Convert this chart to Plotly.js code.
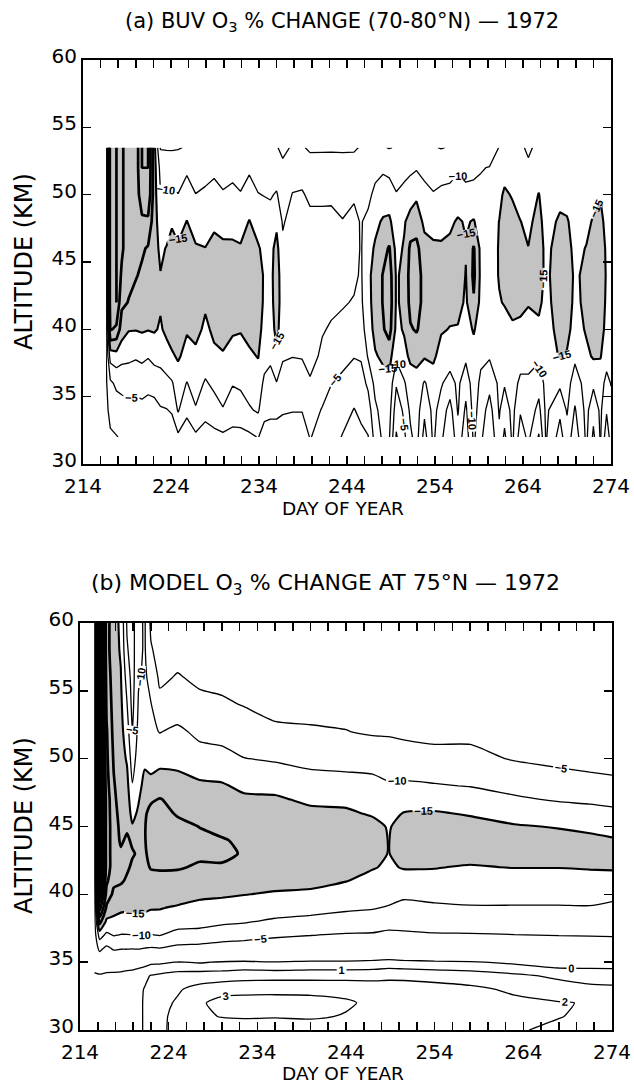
<!DOCTYPE html>
<html><head><meta charset="utf-8">
<script src="https://cdn.plot.ly/plotly-3.0.1.min.js"></script>
<style>html,body{margin:0;padding:0;background:#fff}#chart{width:634px;height:1085px}</style>
</head><body><div id="chart"></div>
<script>
// ---------- Panel (a): BUV observed O3 % change, 70-80N ----------
const daysA = [216.6,217.1,217.8,218.4,219.2,220,220.7,221.4,222.1,222.8,223.5,224.1,224.8,225.8,226.8,227.9,228.9,229.9,231,231.9,232.9,233.9,234.6,235.3,236,236.7,237.8,238.9,239.8,241.2,242.2,243.5,244.8,245.6,246.4,247.2,248.1,248.8,249.6,250.5,251.2,251.9,252.8,253.8,254.7,255.7,256.6,257.5,258.4,259.2,260.2,261.3,261.9,262.8,263.7,264.6,265.8,266.6,268.2,269,269.9,271.2,272,272.8,273.5,274];
const altA = [32,34,36,38,40,42,44,46,48,50,52,53.5];
// one profile (alt 32 -> 53.5) per day, % change
const pctA = [
[1,1,1,1,1,1,1,1,1,1,1,1],
[0.5,-1,-4,-12,-25.5,-28,-28,-28,-28,-28,-28,-28],
[0.2,-2.5,-6,-13,-24,-30,-30,-30,-30,-30,-30,-30],
[-0.5,-3,-6.5,-11.5,-17.5,-21,-24,-26,-26,-26,-26,-26],
[-1,-3.5,-7,-11,-15.3,-19.8,-21,-21.5,-21.5,-21.5,-21.5,-21.5],
[-0.8,-3.2,-6.8,-10.5,-15.2,-18.5,-20.3,-21,-21.5,-22,-22,-22],
[-1,-3.5,-7.2,-11,-15.6,-18,-19.3,-20.6,-24,-28,-30,-30],
[-0.5,-3,-6.5,-10.3,-15.2,-17.5,-18.5,-19.5,-24,-29,-30,-30],
[-0.5,-3.2,-7,-11.5,-15.5,-17,-17.5,-17,-17,-17.2,-17,-16.5],
[-1.5,-4.5,-8,-11.5,-14.5,-15.5,-15.2,-14,-12.5,-10.2,-8.5,-4.6],
[-1.5,-4.8,-8.5,-13.2,-16,-17,-17.2,-15.3,-12.5,-10.5,-7.5,-4.6],
[-2,-5.5,-9.5,-14.3,-17.3,-18,-18,-16.5,-14.5,-11,-7.2,-4.6],
[-4,-10.5,-12.5,-15.6,-17.5,-18.2,-17.8,-15.5,-13.5,-10.1,-7.5,-4.7],
[-2.5,-6,-9.8,-13.5,-15.4,-17.5,-17.8,-16.5,-15.1,-12.5,-9,-5.3],
[-4,-9.6,-12,-14,-16.3,-17.8,-17.5,-15.4,-13.3,-10.1,-7.5,-5.3],
[-3,-6.5,-9.5,-12.5,-14.2,-15.6,-16.3,-15.1,-13,-10.8,-8.2,-5.3],
[-3.5,-8,-11,-14.2,-15.8,-17,-17.5,-16.2,-14.2,-11.8,-8.8,-5.3],
[-4,-9.7,-12.3,-14.5,-17,-17.8,-17.8,-15.8,-13.5,-10.5,-7.8,-5.3],
[-3.5,-7.5,-10.3,-13.5,-15.5,-17.5,-17.8,-15.7,-13.6,-11.2,-8.5,-5.3],
[-3.5,-7.8,-10.8,-13.8,-15.2,-17,-17.5,-15.4,-13.2,-10.3,-7.8,-5.3],
[-4,-9.5,-12,-14.2,-16.5,-17.8,-18,-16.8,-15.2,-12.2,-9.2,-5.3],
[-5.2,-10.6,-12.8,-15.2,-16.5,-17.5,-17.3,-15.5,-13,-10.2,-7.5,-5.3],
[-3,-6.5,-9,-12,-13.5,-14.2,-14.4,-13.8,-12.8,-9.8,-7.5,-5.3],
[-3,-6,-8.5,-10.8,-12.5,-13.5,-13.8,-13.5,-12,-9.5,-7,-5.3],
[-3,-6,-9.8,-14,-16.5,-17,-17,-16.5,-14,-10.5,-7,-5.2],
[-2.5,-5.5,-8,-10.5,-12,-12.8,-12.5,-11,-9.5,-7,-5.6,-4.3],
[-2.5,-5.2,-7.5,-10.1,-12,-13,-13.2,-12.8,-11.8,-10.2,-7.5,-5.3],
[-2.5,-5.2,-7.5,-10.3,-12.2,-13.3,-13.5,-13,-12,-10.5,-7.7,-5.3],
[-5.2,-7.5,-9.5,-11.5,-12.8,-13.5,-13.5,-12.8,-11.3,-9,-6.5,-4.5],
[-3.5,-4.6,-7.5,-9.2,-10.3,-11.5,-12.5,-12.5,-11.3,-9,-6.6,-4.5],
[-2,-3.5,-5.1,-8,-9.6,-10.8,-12,-12.2,-11,-9.3,-6.7,-4.5],
[0.3,-2,-4,-6.3,-8.8,-10.4,-11.6,-11.7,-10.2,-8.3,-6.5,-4.5],
[1.5,0.2,-2.5,-5.2,-7.5,-9.7,-10.8,-11.8,-11,-9.5,-6.7,-4.5],
[1,-1,-3,-5.5,-8,-9.2,-9.5,-9.6,-9.7,-9.2,-7,-5.3],
[0.2,-2.5,-6,-10.5,-12.5,-13.5,-13.8,-13.5,-11.3,-8.5,-6.5,-5.3],
[-7,-9,-11.5,-14.5,-16.5,-17,-17,-15.5,-14,-11.5,-8,-5.3],
[-11,-12,-13,-16,-19.5,-20.3,-20.3,-18.2,-15.5,-12.5,-9.2,-5.3],
[-10.5,-12,-13.5,-17,-22,-23,-22.5,-20.5,-16,-12,-8.8,-4.8],
[0.5,-2,-5.5,-11,-13.8,-14.5,-14.5,-13.5,-12,-10.3,-7.5,-5.3],
[-4,-6,-9.5,-13.5,-15.5,-16,-16,-15.5,-14.5,-11.5,-8.3,-5.3],
[-9,-11,-12.5,-16,-19.5,-21.5,-22,-21,-17,-12.5,-9,-5.3],
[-12,-12.5,-13,-16.5,-20.5,-22.5,-22.5,-21.5,-17.5,-14.2,-9.5,-5.3],
[-3,-6,-9.5,-15.5,-17.5,-18,-18,-16.5,-14,-11.5,-8.5,-5.3],
[-11,-11.5,-12.5,-16,-17.5,-17.5,-17,-15.8,-13.3,-10.3,-7.8,-5.3],
[-6,-8,-10.5,-13,-15.5,-17,-17.3,-15.6,-13.5,-11,-8,-4.8],
[-1,-3,-8,-12.5,-14.8,-16.5,-17.3,-16,-14.2,-11.5,-8,-5.3],
[-8,-10.5,-11,-12,-14.6,-16.8,-17.8,-17,-15.5,-12.5,-9.3,-5.3],
[-2,-4,-7,-11,-13,-14.2,-14.8,-15.3,-14.6,-11.2,-8.6,-5.3],
[-11,-12,-12.5,-13,-15.5,-19.5,-21,-20.5,-15.3,-12.2,-8.2,-5.3],
[-6,-7.5,-9,-11,-12.5,-13.5,-14,-13.8,-13,-11.5,-9.6,-5.3],
[-1,-3,-6.5,-10.5,-12,-13,-13.5,-13,-12.5,-11.3,-10.3,-5.3],
[-9,-10.5,-11,-12,-14,-14.8,-15.2,-15.3,-15.1,-13.5,-11,-10.3],
[-4,-7,-10.5,-12.5,-13.8,-15.2,-17,-17.5,-17.5,-16,-12.5,-11],
[-11,-11.5,-12,-13,-14.5,-16,-17.5,-18,-17,-14.5,-12.2,-11.3],
[-2.5,-5.5,-9,-12,-14.3,-15.8,-16.8,-16.5,-15.1,-13,-12,-11],
[-6,-8,-9.5,-11,-13.5,-15.3,-16,-15.1,-14,-12.5,-11,-9],
[0.5,-3.5,-7,-11,-14,-16,-17,-17.2,-16.5,-15.2,-12.5,-11.5],
[-10.5,-11,-11.5,-11.8,-12.5,-13.5,-14,-13.8,-13,-12,-11.5,-11],
[-3,-6,-11,-15.5,-17,-17.5,-17.5,-17,-15.8,-13.5,-12,-11.2],
[-8,-10.5,-12,-14.5,-16.5,-17,-17.2,-16.5,-15.5,-13,-11.5,-11],
[-2,-4.5,-7.5,-11,-13,-14,-14.3,-13.8,-13,-12,-11.3,-11],
[-11,-11.5,-12,-14,-15.5,-16,-16,-15.2,-13.8,-12.5,-11.5,-11],
[-4,-6.5,-11,-15.5,-17,-17.5,-17.5,-16.8,-15.5,-13.5,-12,-11.2],
[-10.5,-11,-12,-15.3,-17,-17.5,-17.8,-17.3,-16.3,-14.7,-12.5,-11.5],
[-2,-5.5,-8.5,-12,-13.5,-14.2,-14.5,-14.3,-13.5,-12.5,-12,-11.5],
[-7,-8.5,-10.2,-11.5,-13,-13.8,-14,-14,-13.5,-12.5,-12,-11.5]
];

// ---------- Panel (b): model O3 % change at 75N ----------
const daysB = [215.6,216.2,217,217.8,218.6,219.3,219.9,220.6,221.3,222,223,225,227.5,230,232.5,236,240,244,247,248.8,250.5,254,258,263,268,271.5,274];
const altB = [30,31,32,33,34,35,36,37,38,39,40,41,42,43,44,45,46,47,48,50,52,54,56,58,60];
const pctB = [
[0.5,0.5,0.5,0.5,0.3,-1,-2,-2,-2,-2,-2,-2,-2,-2,-2,-2,-2,-2,-2,-2,-2,-2,-2,-2,-2],
[0.5,0.5,0.5,0.4,0.2,-1.5,-6,-12,-22,-32,-40,-47,-47,-47,-47,-47,-47,-47,-47,-47,-47,-47,-47,-47,-47],
[0.6,0.6,0.6,0.5,0.3,-1,-4,-9,-14,-19,-23,-26,-28,-28,-28,-28,-28,-28,-27,-26,-25.5,-24,-23,-22,-22],
[0.7,0.7,0.7,0.6,0.4,-1.2,-5.5,-10.3,-14,-16.5,-19,-21,-22,-22,-22,-22,-21.5,-21,-20.5,-19.5,-18.5,-18,-17.5,-17,-17],
[0.7,0.7,0.7,0.6,0.4,-1,-5.2,-9.8,-13.5,-15.8,-18.5,-20.5,-21,-20.5,-19.5,-19,-18.5,-18,-17.5,-17,-16.5,-16,-15.3,-14.5,-14],
[0.8,0.8,0.8,0.7,0.5,-0.8,-5.2,-9.8,-13.8,-15.5,-18,-19.5,-20.5,-21,-20.5,-19.5,-18.5,-17.5,-16.5,-14.5,-12.5,-10.2,-8,-5.5,-4.5],
[0.8,0.8,0.8,0.7,0.5,-0.7,-5.1,-9.9,-14,-15.5,-17.5,-18.5,-19.5,-20.3,-19.5,-15.5,-13,-11.5,-10.3,-7.5,-4.8,-3.5,-3,-3,-3],
[0.9,0.9,0.9,0.8,0.6,-0.5,-5.2,-10.2,-14.2,-15.8,-17.5,-18.5,-19.3,-19.6,-19,-17.5,-16,-14.5,-13.5,-12.5,-11.5,-10.5,-9.5,-9,-9],
[1.05,1.05,1.05,1.05,0.8,-0.4,-4.8,-10.1,-14,-15.5,-17,-18.2,-19,-19.5,-19.8,-19.8,-19.5,-18.5,-16.5,-14,-12.5,-11.5,-11,-10.5,-10.5],
[1.3,1.3,1.3,1.3,1.05,-0.2,-4.5,-9.8,-13.8,-15.2,-16.8,-18.5,-20.3,-21.2,-21.5,-21.5,-21,-19.5,-16.5,-13,-11,-10.2,-8,-5.5,-4],
[1.8,1.8,1.75,1.6,1.2,-0.2,-4.8,-10.2,-13.5,-15.2,-17,-18.8,-20.4,-21.5,-22,-22,-21.5,-20.2,-17.5,-13.5,-9.8,-6.2,-4.2,-3.2,-2.6],
[2.3,2.25,2.1,1.9,1.4,0.05,-3.8,-8.2,-12.5,-14.5,-17,-18.8,-20.3,-21.5,-22,-21.2,-19.5,-18.8,-16.5,-13.8,-11,-7,-5.3,-3.5,-2.5],
[2.6,2.8,2.85,2.3,1.5,-0.1,-3.5,-8,-12,-13.8,-15.8,-18,-19.6,-20.6,-21,-19.9,-18.5,-17.2,-15.8,-12,-8.8,-6,-4.2,-3,-2.2],
[2.4,3.05,3.35,2.6,1.5,0.1,-3,-7,-11,-13.5,-15.5,-17.5,-19.5,-21,-20.3,-18.8,-17.8,-16.8,-15.5,-11.5,-8.3,-5.6,-3.8,-2.6,-1.8],
[2.5,3.1,3.4,2.7,1.6,0.2,-2.8,-6.5,-10.5,-13.2,-15.1,-17,-18.5,-19.6,-19.3,-18.3,-17.2,-15.8,-14,-10.1,-7.2,-4.8,-3.3,-2.3,-1.6],
[2.6,3.05,3.3,2.8,1.6,0.05,-2.6,-5.6,-9.2,-12.6,-14.6,-16.3,-17.5,-18.2,-18.5,-18.3,-17.8,-15.7,-13.5,-9.5,-5.6,-4,-2.9,-2.1,-1.5],
[2.6,3.1,3.25,2.8,1.6,0.2,-2.3,-5.1,-8.5,-11.8,-14.3,-16.1,-17.2,-17.8,-18,-17.8,-16.1,-14,-12,-8.7,-5.4,-3.8,-2.7,-2,-1.4],
[2.6,2.95,3.1,2.75,1.6,0.2,-2.2,-4.6,-7.8,-10.8,-13.5,-15.1,-16.8,-17.5,-17.8,-17.6,-15.6,-14,-11.8,-8.3,-5.1,-3.6,-2.6,-1.9,-1.4],
[2.4,2.8,2.85,2.65,1.6,0.3,-2.1,-4.5,-7.5,-10.3,-12.6,-14.1,-15.2,-16.2,-16.6,-16.2,-14.5,-13.2,-11.6,-7.9,-4.5,-3.4,-2.5,-1.8,-1.3],
[2.3,2.6,2.7,2.6,1.7,0.4,-1.8,-4,-6.8,-9.6,-11.8,-13.5,-14.6,-14.9,-14.9,-14.7,-13.2,-12,-10.5,-7.6,-4.4,-3.2,-2.4,-1.7,-1.2],
[2.2,2.5,2.6,2.55,1.7,0.3,-2,-4.2,-6.8,-8.8,-10.8,-13.8,-15.2,-16.2,-16.6,-16.3,-15.1,-13.3,-10.8,-6.8,-4.2,-3.1,-2.3,-1.6,-1.1],
[2.2,2.45,2.5,2.4,1.6,0.2,-2.2,-4.5,-7.6,-9.2,-11.4,-14.2,-15.1,-16,-16.8,-16.5,-15.3,-13.2,-10.4,-6,-4.1,-3,-2.2,-1.5,-1.1],
[2.1,2.35,2.35,2.2,1.5,0.1,-2.3,-4.6,-7.7,-9.6,-11.6,-13.4,-14.8,-15.9,-16.6,-16.3,-14.6,-12.7,-9.8,-6.1,-4,-2.8,-2.1,-1.5,-1.1],
[2.05,2.15,2.2,1.85,1.2,-0.2,-2.4,-4.9,-7.8,-9.6,-11.6,-13.4,-15.1,-16,-16.3,-15.3,-13.5,-10.7,-8.5,-4.7,-3.6,-2.6,-1.9,-1.4,-1],
[1.9,2.02,2.05,1.5,0.8,-0.6,-2.5,-5.1,-7.8,-9.6,-11.5,-13.5,-15.1,-16,-16.1,-14.8,-12.4,-9.5,-7,-4,-3.3,-2.4,-1.8,-1.3,-1],
[1.8,1.9,1.95,1.25,0.6,-0.5,-2.6,-5.2,-7.9,-9.7,-11.5,-13.6,-15.3,-16,-15.7,-14.3,-11.8,-9,-6.2,-3.8,-3,-2.2,-1.6,-1.2,-0.9],
[1.7,1.8,1.8,1.2,0.55,-0.5,-2.7,-5.3,-8,-9.2,-10.9,-13.7,-15.4,-15.9,-15.3,-13.8,-11.2,-8.5,-5.9,-3.6,-2.9,-2.1,-1.6,-1.2,-0.9]
];

const SHADE = '#c3c3c3';
const FONT = 'DejaVu Sans, Liberation Sans, sans-serif';
const labelFont = {family: 'Liberation Sans, Arial, sans-serif', size: 11, color: '#000', weight: 'bold'};

// depletion (= -change) table, used only for the grey shading of the < -15 % regions
const depletion = t => t.map(col => col.map(v => -v));

function panelTraces(x, y, z, xa, ya, smooth, withPositive, thickStart) {
  const base = {type: 'contour', x: x, y: y, transpose: true, xaxis: xa, yaxis: ya,
    autocontour: false, showscale: false, hoverinfo: 'skip'};
  const t = [];
  t.push(Object.assign({}, base, {
    z: depletion(z),
    contours: {start: 15, end: 15, size: 5, coloring: 'fill', showlines: false},
    colorscale: [[0, 'rgba(255,255,255,0)'], [1, SHADE]],
    line: {width: 0, smoothing: smooth}
  }));
  t.push(Object.assign({}, base, {z: z,
    contours: {start: -10, end: 0, size: 5, coloring: 'none', showlabels: true, labelfont: labelFont},
    line: {color: '#000', width: 1.3, smoothing: smooth}
  }));
  if (withPositive) {
    t.push(Object.assign({}, base, {z: z,
      contours: {start: 1, end: 3, size: 1, coloring: 'none', showlabels: true, labelfont: labelFont},
      line: {color: '#000', width: 1.3, smoothing: smooth}
    }));
  }
  t.push(Object.assign({}, base, {z: z,
    contours: {start: -15, end: -15, size: 5, coloring: 'none', showlabels: true, labelfont: labelFont},
    line: {color: '#000', width: 2.1, smoothing: smooth}
  }));
  t.push(Object.assign({}, base, {z: z,
    contours: {start: thickStart, end: -20, size: 5, coloring: 'none', showlabels: false},
    line: {color: '#000', width: 2.7, smoothing: smooth}
  }));
  return t;
}

const data = [].concat(
  panelTraces(daysA, altA, pctA, 'x', 'y', 0, false, -30),
  panelTraces(daysB, altB, pctB, 'x2', 'y2', 0.6, true, -45)
);

const tickStyle = {ticks: 'inside', ticklen: 8, tickwidth: 1.6, tickcolor: '#000'};
const tickFont = {family: FONT, size: 20, color: '#000'};
function xAxis(domain, anchor) {
  return Object.assign({domain: domain, anchor: anchor, range: [214, 274], tickmode: 'linear', tick0: 214, dtick: 10,
    minor: Object.assign({tick0: 214, dtick: 2, showgrid: false}, tickStyle),
    showline: true, linewidth: 2, linecolor: '#000', mirror: 'allticks', layer: 'above traces',
    ticklabelstandoff: 3,
    showgrid: false, zeroline: false, tickfont: tickFont, fixedrange: true}, tickStyle);
}
function yAxis(domain, anchor) {
  return Object.assign({domain: domain, anchor: anchor, range: [30, 60], tickmode: 'linear', tick0: 30, dtick: 5,
    showline: true, linewidth: 2, linecolor: '#000', mirror: 'allticks', layer: 'above traces',
    ticklabelshift: -4,
    showgrid: false, zeroline: false, tickfont: tickFont, fixedrange: true}, tickStyle);
}

const W = 634, H = 1085;
const px = v => v / W, py = v => 1 - v / H;
const titleAFont = {family: FONT, size: 21, color: '#000'};
const titleBFont = {family: FONT, size: 22, color: '#000'};
const xTitleFont = {family: FONT, size: 18.5, color: '#000'};
const yTitleFont = {family: FONT, size: 24, color: '#000'};

const layout = {
  width: W, height: H, margin: {l: 0, r: 0, t: 0, b: 0},
  paper_bgcolor: '#fff', plot_bgcolor: 'rgba(0,0,0,0)', showlegend: false,
  xaxis: xAxis([px(83), px(611)], 'y'),
  yaxis: yAxis([py(464), py(60)], 'x'),
  xaxis2: xAxis([px(80), px(612)], 'y2'),
  yaxis2: yAxis([py(1030), py(623)], 'x2'),
  annotations: [
    {text: '(a) BUV O<sub>3</sub> % CHANGE (70-80°N) — 1972', x: px(342), y: py(22), xref: 'paper', yref: 'paper',
      xanchor: 'center', yanchor: 'middle', showarrow: false, font: titleAFont},
    {text: '(b) MODEL O<sub>3</sub> % CHANGE AT 75°N — 1972', x: px(325), y: py(584), xref: 'paper', yref: 'paper',
      xanchor: 'center', yanchor: 'middle', showarrow: false, font: titleBFont},
    {text: 'ALTITUDE (KM)', x: px(24), y: py(262), xref: 'paper', yref: 'paper', textangle: -90,
      xanchor: 'center', yanchor: 'middle', showarrow: false, font: yTitleFont},
    {text: 'ALTITUDE (KM)', x: px(24), y: py(826), xref: 'paper', yref: 'paper', textangle: -90,
      xanchor: 'center', yanchor: 'middle', showarrow: false, font: yTitleFont},
    {text: 'DAY OF YEAR', x: px(343), y: py(509), xref: 'paper', yref: 'paper',
      xanchor: 'center', yanchor: 'middle', showarrow: false, font: xTitleFont},
    {text: 'DAY OF YEAR', x: px(343), y: py(1073.5), xref: 'paper', yref: 'paper',
      xanchor: 'center', yanchor: 'middle', showarrow: false, font: xTitleFont}
  ]
};

Plotly.newPlot('chart', data, layout, {staticPlot: true, displayModeBar: false});
</script></body></html>
